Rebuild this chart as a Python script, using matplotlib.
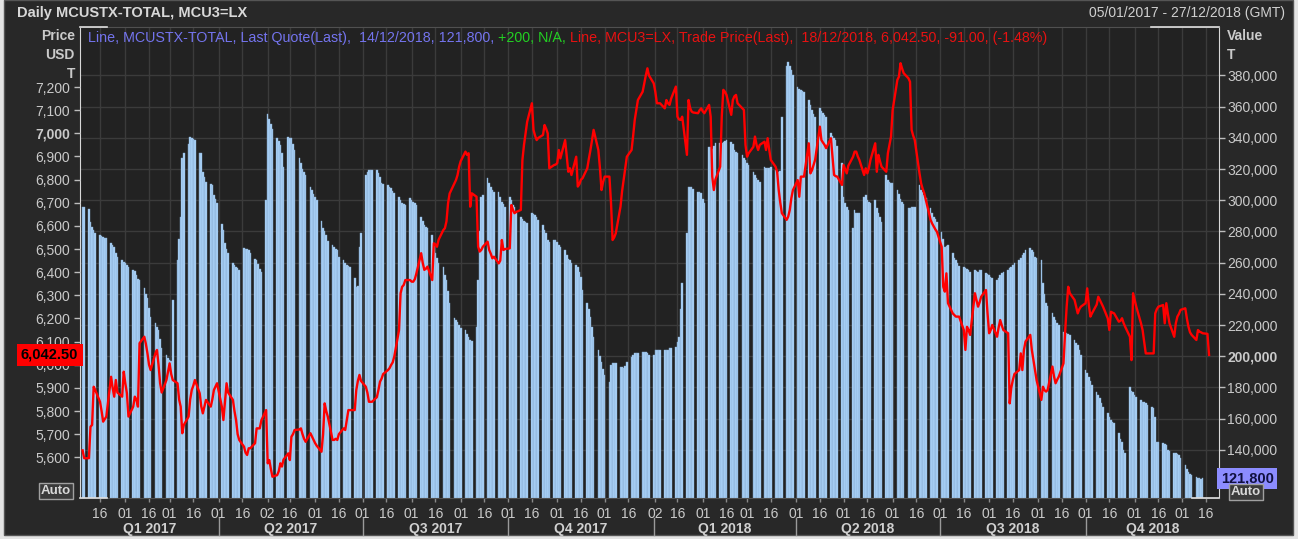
import numpy as np
import pandas as pd
import matplotlib
matplotlib.use("Agg")
import matplotlib.pyplot as plt
import matplotlib.dates as mdates
import matplotlib.transforms as mtransforms
from matplotlib.text import Annotation
from matplotlib.patches import Rectangle

plt.rcParams['font.family'] = ['Liberation Sans', 'DejaVu Sans']

# ---------------- DATA (weekly rows of daily values) ----------------
# LME copper stocks, MCUSTX-TOTAL (thousand tonnes), trading days from 05/01/2017
stocks_2017q1 = [
    [295.9, 295.5],
    [294.4, 286.3, 283.1, 281.0, 279.0], [277.8, 277.0, 276.5, 276.0, 275.8],
    [272.6, 271.5, 270.3, 266.0, 263.9], [261.7, 260.5, 259.5, 258.4, 257.4],
    [255.3, 254.5, 252.0, 249.5, 248.9], [243.6, 240.0, 237.2, 231.0, 225.4],
    [221.2, 219.0, 216.9, 211.0, 205.1], [200.8, 199.0, 197.6, 197.0, 236.1],
    [261.7, 275.0, 289.5, 326.9, 330.0], [336.0, 340.8, 340.0, 339.0, 338.6],
    [330.1, 330.1, 318.3, 315.0, 311.9], [310.5, 309.8, 303.4, 301.0, 298.1]]
stocks_2017q2 = [
    [285.0, 281.0, 272.4, 269.0, 266.0], [259.6, 258.5, 257.4, 256.5, 255.3],
    [269.2, 269.0, 268.5, 268.1, 266.0], [262.5, 261.7, 259.0, 256.0, 254.2],
    [300.0, 355.3, 352.0, 349.0, 346.0], [339.7, 338.0, 335.4, 330.0, 321.5],
    [340.8, 339.7, 339.7, 336.0, 332.2], [327.0, 323.7, 320.0, 318.0, 316.2],
    [308.3, 306.6, 304.0, 302.0, 300.2], [287.0, 282.1, 280.0, 277.8, 274.0],
    [271.4, 270.0, 269.0, 268.1, 263.9], [261.7, 260.0, 258.5, 257.8, 257.4],
    [250.0, 244.6, 245.0, 270.0, 278.9]]
stocks_2017q3 = [
    [316.2, 318.0, 319.4, 319.4, 319.4], [319.4, 317.3, 315.0, 310.9, 310.5],
    [309.8, 308.5, 307.7, 306.0, 304.5], [302.3, 300.0, 298.1, 297.5, 297.0],
    [301.3, 300.0, 299.0, 298.1, 297.0], [289.5, 287.0, 284.2, 283.0, 282.1],
    [277.8, 272.0, 266.0, 263.0, 260.0], [257.4, 252.0, 248.9, 242.0, 234.0],
    [224.4, 223.0, 222.2, 220.0, 218.0], [216.9, 214.0, 212.6, 210.5, 210.0],
    [219.0, 248.9, 280.0, 302.3, 303.4], [314.1, 311.0, 308.7, 306.5, 305.5],
    [305.5, 302.0, 299.1, 297.5, 295.9]]
stocks_2017q4 = [
    [302.3, 300.0, 297.0, 295.9, 291.7], [289.5, 288.0, 287.0, 286.3, 285.5],
    [291.7, 291.0, 290.6, 289.0, 287.4], [284.2, 281.0, 279.0, 274.6, 273.5],
    [274.6, 274.6, 273.0, 271.5, 270.3], [268.1, 265.0, 262.5, 261.7, 259.6],
    [258.5, 257.0, 254.0, 251.0, 242.5], [234.0, 230.0, 225.4, 219.0, 212.6],
    [204.0, 200.0, 196.5, 192.0, 188.0], [183.7, 194.4, 195.5, 195.5, 195.5],
    [193.3, 193.0, 192.2, 194.0, 196.5], [199.8, 201.0, 201.9, 201.9, 201.9],
    [203.0, 203.0, 203.0, 202.0, 200.8]]
stocks_2018q1 = [
    [200.8, 204.0, 204.0, 204.0, 204.0], [204.0, 204.0, 204.0, 205.0, 205.1],
    [206.2, 209.0, 212.6, 230.0, 246.8], [278.9, 308.7, 308.7, 308.7, 307.0],
    [305.5, 305.0, 304.5, 301.0, 298.1], [334.4, 334.4, 333.0, 335.0, 336.5],
    [336.5, 337.0, 337.6, 338.0, 338.6], [337.6, 336.0, 332.2, 331.0, 330.1],
    [329.0, 327.0, 325.8, 324.0, 322.6], [318.3, 316.0, 314.1, 313.0, 311.9],
    [321.5, 321.0, 320.5, 321.0, 321.5], [319.4, 318.3, 318.3, 318.5, 353.6],
    [386.0, 388.8, 386.0, 383.5, 380.0]]
stocks_2018q2 = [
    [372.8, 371.5, 370.7, 370.0, 369.6], [364.3, 361.0, 357.9, 355.0, 353.6],
    [359.0, 357.0, 355.8, 354.5, 353.6], [342.9, 341.0, 340.0, 338.6, 335.0],
    [323.7, 302.3, 298.0, 296.0, 293.8], [282.1, 293.8, 291.7, 291.7, 291.7],
    [302.3, 303.4, 300.0, 299.0, 298.1], [300.2, 294.9, 292.0, 289.0, 286.0],
    [316.2, 313.0, 311.5, 310.9, 310.9], [306.6, 304.0, 301.0, 299.1, 297.5],
    [294.9, 295.0, 295.5, 295.9, 296.0], [309.8, 306.6, 305.0, 303.4, 301.5],
    [294.9, 292.0, 289.5, 288.0, 286.3]]
stocks_2018q3 = [
    [279.9, 275.0, 270.3, 271.0, 271.4], [266.0, 263.0, 261.7, 259.6, 258.0],
    [257.4, 256.4, 256.0, 255.3, 254.2], [255.3, 254.7, 254.2, 255.0, 255.3],
    [253.2, 252.5, 252.1, 251.0, 250.0], [248.9, 250.0, 252.1, 253.5, 254.2],
    [255.3, 256.5, 257.4, 258.5, 259.6], [261.7, 263.0, 264.9, 266.5, 268.1],
    [269.2, 268.1, 267.1, 263.9, 262.8], [261.7, 246.8, 240.0, 234.0, 232.5],
    [228.0, 225.4, 223.0, 221.2, 220.0], [215.8, 215.0, 214.7, 214.0, 213.7],
    [210.5, 208.3, 207.0, 204.0, 200.8]]
stocks_2018q4 = [
    [191.2, 189.0, 186.9, 184.0, 181.6], [177.3, 175.0, 173.1, 170.0, 167.7],
    [163.5, 161.0, 159.2, 158.1, 157.0], [150.6, 147.0, 145.3, 139.9, 137.8],
    [180.5, 178.0, 177.3, 175.0, 174.1], [172.0, 171.0, 170.5, 169.9, 168.5],
    [167.7, 166.7, 161.3, 145.3, 145.3], [144.3, 144.0, 143.0, 139.9, 139.0],
    [137.8, 137.8, 137.5, 136.7, 134.5], [130.3, 128.0, 126.0, 124.5, 123.9],
    [122.5, 121.9, 121.7, 121.6, 121.8]]

# LME 3M copper, MCU3=LX trade price (USD/t), trading days from 05/01/2017
price_2017q1 = [
    [5630, 5596],
    [5596, 5732, 5740, 5905, 5891], [5840, 5800, 5754, 5765, 5776],
    [5948, 5900, 5862, 5934, 5880], [5862, 5970, 5920, 5877, 5776],
    [5819, 5862, 5850, 5819, 6093], [6121, 6090, 6049, 6000, 5977],
    [6049, 6064, 6000, 5920, 5880], [5934, 5970, 6006, 5960, 5934],
    [5920, 5850, 5819, 5704, 5740], [5776, 5850, 5891, 5910, 5934],
    [5877, 5820, 5790, 5820, 5848], [5819, 5850, 5891, 5905, 5920]]
price_2017q2 = [
    [5819, 5761, 5840, 5920, 5880], [5848, 5800, 5761, 5700, 5675],
    [5646, 5620, 5610, 5639, 5639], [5661, 5725, 5725, 5725, 5760],
    [5804, 5574, 5588, 5550, 5516], [5523, 5540, 5574, 5560, 5590],
    [5617, 5588, 5689, 5700, 5718], [5720, 5725, 5700, 5680, 5667],
    [5704, 5690, 5675, 5661, 5650], [5624, 5700, 5833, 5800, 5776],
    [5675, 5675, 5680, 5675, 5700], [5725, 5718, 5760, 5804, 5804],
    [5804, 5891, 5930, 5956, 5930]]
price_2017q3 = [
    [5905, 5880, 5840, 5840, 5840], [5860, 5891, 5927, 5940, 5960],
    [5977, 5985, 5999, 6010, 6035], [6150, 6309, 6337, 6345, 6366],
    [6366, 6359, 6359, 6370, 6395], [6482, 6440, 6410, 6415, 6424],
    [6366, 6525, 6520, 6510, 6540], [6582, 6590, 6620, 6698, 6740],
    [6784, 6798, 6820, 6856, 6880], [6921, 6907, 6914, 6683, 6741],
    [6726, 6510, 6489, 6496, 6510], [6532, 6496, 6480, 6460, 6467],
    [6438, 6450, 6539, 6496, 6500]]
price_2017q4 = [
    [6503, 6690, 6670, 6655, 6660], [6669, 6885, 6950, 7000, 7050],
    [7130, 7015, 6990, 6971, 6980], [6993, 7036, 7020, 7000, 6849],
    [6863, 6865, 6871, 6928, 6892], [6971, 6900, 6834, 6849, 6820],
    [6899, 6770, 6780, 6800, 6806], [6849, 6890, 6928, 6970, 7015],
    [6928, 6850, 6755, 6790, 6813], [6813, 6700, 6539, 6550, 6568],
    [6683, 6750, 6800, 6850, 6899], [6928, 6990, 7058, 7100, 7144],
    [7180, 7216, 7250, 7281, 7250]]
price_2018q1 = [
    [7216, 7180, 7130, 7130, 7130], [7108, 7144, 7130, 7123, 7150],
    [7202, 7072, 7060, 7058, 7072], [6907, 7144, 7110, 7094, 7090],
    [7087, 7100, 7108, 7095, 7087], [7123, 7072, 6813, 6755, 6800],
    [6856, 7072, 7188, 7180, 7166], [7080, 7144, 7160, 7166, 7130],
    [7108, 7101, 6950, 6899, 6914], [6942, 6986, 6950, 6928, 6950],
    [6964, 6928, 6979, 6930, 6885], [6856, 6834, 6755, 6700, 6655],
    [6626, 6640, 6669, 6720, 6755]]
price_2018q2 = [
    [6798, 6726, 6813, 6813, 6813], [6957, 6827, 6840, 6863, 6885],
    [7029, 6971, 6960, 6950, 6936], [6979, 6900, 6820, 6815, 6813],
    [6777, 6863, 6845, 6827, 6860], [6899, 6921, 6921, 6900, 6885],
    [6820, 6849, 6827, 6850, 6885], [6957, 6834, 6907, 6880, 6856],
    [6834, 6914, 6950, 6986, 7100], [7231, 7245, 7303, 7280, 7260],
    [7238, 7223, 7015, 6990, 6971], [6827, 6784, 6760, 6741, 6712],
    [6626, 6610, 6597, 6585, 6575]]
price_2018q3 = [
    [6510, 6337, 6316, 6395, 6266], [6222, 6215, 6208, 6208, 6208],
    [6150, 6064, 6164, 6150, 6129], [6309, 6280, 6251, 6270, 6294],
    [6323, 6222, 6136, 6150, 6172], [6121, 6160, 6193, 6170, 6150],
    [6136, 5833, 5900, 5934, 5960], [5977, 6049, 5977, 6064, 6100],
    [6129, 6064, 6020, 5977, 5934], [5848, 5905, 5890, 5884, 5891],
    [5992, 5950, 5920, 5935, 5948], [6006, 6136, 6250, 6337, 6309],
    [6280, 6250, 6222, 6240, 6251]]
price_2018q4 = [
    [6266, 6330, 6260, 6208, 6222], [6260, 6294, 6280, 6266, 6251],
    [6200, 6150, 6229, 6225, 6222], [6186, 6190, 6201, 6180, 6164],
    [6121, 6020, 6309, 6280, 6251], [6179, 6150, 6100, 6049, 6049],
    [6049, 6049, 6222, 6240, 6251], [6258, 6179, 6266, 6220, 6179],
    [6121, 6179, 6208, 6220, 6237], [6244, 6200, 6164, 6140, 6129],
    [6107, 6150, 6143, 6140, 6136], [6133.5, 6042.5]]

series_start = "2017-01-05"
price_ticks = list(range(5600, 7201, 100))
stock_ticks = list(range(140000, 380001, 20000))
bold_price_ticks = [7000]
bold_stock_ticks = [200000]
quarters = ["Q1 2017", "Q2 2017", "Q3 2017", "Q4 2017",
            "Q1 2018", "Q2 2018", "Q3 2018", "Q4 2018"]
quarter_starts = ["2017-01-01", "2017-04-01", "2017-07-01", "2017-10-01",
                  "2018-01-01", "2018-04-01", "2018-07-01", "2018-10-01", "2019-01-01"]
month_first_shift = {(2017, 5): 2, (2018, 1): 2}   # first trading day label (02)


def flat(blocks):
    return [v for block in blocks for row in block for v in row]


stocks = np.array(flat([stocks_2017q1, stocks_2017q2, stocks_2017q3, stocks_2017q4,
                        stocks_2018q1, stocks_2018q2, stocks_2018q3, stocks_2018q4])) * 1000
price = np.array(flat([price_2017q1, price_2017q2, price_2017q3, price_2017q4,
                       price_2018q1, price_2018q2, price_2018q3, price_2018q4]), dtype=float)
stock_dates = pd.bdate_range(series_start, periods=len(stocks))
price_dates = pd.bdate_range(series_start, periods=len(price))
xs = mdates.date2num(stock_dates.to_pydatetime())
xp = mdates.date2num(price_dates.to_pydatetime())

# ---------------- FIGURE ----------------
W, H = 1298, 539
fig = plt.figure(figsize=(W / 100, H / 100), dpi=100, facecolor="#e4e4e4")


def fx(px):
    return px / W


def fy(py):
    return 1 - py / H


# dark panel of the chart window
fig.add_artist(Rectangle((fx(4), fy(535)), fx(1293) - fx(4), 1 - fy(535),
                         transform=fig.transFigure, fc="#282828", ec="#555555", lw=1, zorder=-10))

TXT = "#cacaca"
ax = fig.add_axes([fx(80), fy(498), fx(1219) - fx(80), fy(27) - fy(498)])
ax.set_facecolor("#222222")
ax2 = ax.twinx()

# bars (stocks) on host axis -> right scale
ax.bar(xs, stocks, width=1.0, color="#add6fc", edgecolor="#86a9cf", linewidth=0.3, zorder=2)
ax.yaxis.tick_right()
ax.set_ylim(109160, 411090)
ax.set_yticks(stock_ticks)
ax.set_yticklabels([f"{v:,}" for v in stock_ticks])

# line (price) on twin axis -> left scale
ax2.plot(xp, price, color="#ff0000", lw=1.7, zorder=3)
ax2.yaxis.tick_left()
ax2.set_ylim(5424.1, 7459.6)
ax2.set_yticks(price_ticks)
ax2.set_yticklabels([f"{v:,}" for v in price_ticks])

x0 = mdates.date2num(pd.Timestamp("2017-01-16").to_pydatetime())
ax.set_xlim(x0 - 12.64, x0 + 707.3)

# x ticks: 01 / 16 of each month
tick_dates, tick_labels = [], []
for y in (2017, 2018):
    for m in range(1, 13):
        d1 = month_first_shift.get((y, m), 1)
        for d in (d1, 16):
            tick_dates.append(pd.Timestamp(y, m, d))
            tick_labels.append(f"{d:02d}")
tx = mdates.date2num([t.to_pydatetime() for t in tick_dates])
keep = (tx > ax.get_xlim()[0]) & (tx < ax.get_xlim()[1])
ax.set_xticks(tx[keep])
ax.set_xticklabels([l for l, k in zip(tick_labels, keep) if k])

ax.grid(True, color="#3b3b3b", lw=1.0, zorder=0)
ax.set_axisbelow(True)

ax.tick_params(axis="y", which="both", right=True, left=False, labelright=True, labelleft=False,
               direction="out", length=4, width=1, color="#bdbdbd", labelcolor=TXT,
               labelsize=10, pad=2)
ax2.tick_params(axis="y", which="both", left=True, right=False, labelleft=True, labelright=False,
                direction="out", length=4, width=1, color="#bdbdbd", labelcolor=TXT,
                labelsize=10, pad=3)
ax.tick_params(axis="x", bottom=True, direction="out", length=3, width=1, color="#8a8a8a",
               labelcolor=TXT, labelsize=10, pad=3.5)

for lbl, v in zip(ax.get_yticklabels(), stock_ticks):
    if v in bold_stock_ticks:
        lbl.set_fontweight("bold")
for lbl, v in zip(ax2.get_yticklabels(), price_ticks):
    if v in bold_price_ticks:
        lbl.set_fontweight("bold")

for s in ("left", "right"):
    ax.spines[s].set_color("#d8d8d8")
for s in ("top", "bottom"):
    ax.spines[s].set_color("#505050")
for s in ax2.spines.values():
    s.set_visible(False)

# corner highlight segments of the frame
for (xa, xb, yy) in [(0, 0.024, 1), (0, 0.024, 0), (0.976, 1, 0), (0.94, 1, 1)]:
    ax.plot([xa, xb], [yy, yy], transform=ax.transAxes, color="#e0e0e0", lw=1.2,
            clip_on=False, zorder=5)

# quarter labels and separators
bt = mtransforms.blended_transform_factory(ax.transData, ax.transAxes)
qs = mdates.date2num([pd.Timestamp(q).to_pydatetime() for q in quarter_starts])
xl = ax.get_xlim()
for i, q in enumerate(quarters):
    a, b = max(qs[i], xl[0]), min(qs[i + 1], xl[1])
    ax.text((a + b) / 2, -0.066, q, transform=bt, ha="center", va="center",
            fontsize=10, fontweight="bold", color="#d0d0d0")
for q in qs[1:-1]:
    ax.plot([q, q], [-0.042, -0.078], transform=bt, color="#9a9a9a", lw=1, clip_on=False)

# last value tags
bl2 = mtransforms.blended_transform_factory(ax2.transAxes, ax2.transData)
ax2.text(-0.0015, price[-1], f"{price[-1]:,.2f}", transform=bl2, ha="right", va="center",
         fontsize=10.5, fontweight="bold", color="black",
         bbox=dict(boxstyle="square,pad=0.3", fc="#ff0000", ec="none"), zorder=6, clip_on=False)
bl1 = mtransforms.blended_transform_factory(ax.transAxes, ax.transData)
ax.text(1.0015, stocks[-1], f"{stocks[-1]:,.0f}", transform=bl1, ha="left", va="center",
        fontsize=10.5, fontweight="bold", color="#101040",
        bbox=dict(boxstyle="square,pad=0.25", fc="#8c8cff", ec="none"), zorder=6, clip_on=False)

# axis headers
for txt, py in (("Price", 36), ("USD", 55), ("T", 74)):
    fig.text(fx(75), fy(py), txt, ha="right", va="center", fontsize=10, fontweight="bold", color=TXT)
for txt, py in (("Value", 36), ("T", 55)):
    fig.text(fx(1227), fy(py), txt, ha="left", va="center", fontsize=10, fontweight="bold", color=TXT)

for px, py in ((56, 491), (1246, 492)):
    fig.text(fx(px), fy(py), "Auto", ha="center", va="center", fontsize=9.5, fontweight="bold",
             color="#d8d8d8", bbox=dict(boxstyle="square,pad=0.12", fc="#3a3a3a", ec="#a0a0a0", lw=1))

# title bar
fig.text(fx(17), fy(13), "Daily MCUSTX-TOTAL, MCU3=LX", ha="left", va="center",
         fontsize=10.5, fontweight="bold", color="#d8d8d8")
fig.text(fx(1285), fy(13), "05/01/2017 - 27/12/2018 (GMT)", ha="right", va="center",
         fontsize=10, color="#d0d0d0")

# legend line (multi-coloured)
chg_s = stocks[-1] - stocks[-2]
chg_p = price[-1] - price[-2]
pct_p = chg_p / price[-2] * 100
pieces = [
    (f"Line, MCUSTX-TOTAL, Last Quote(Last),  {stock_dates[-1]:%d/%m/%Y}, {stocks[-1]:,.0f}, ", "#7474ee"),
    (f"{chg_s:+,.0f}, N/A, ", "#22d022"),
    (f"Line, MCU3=LX, Trade Price(Last),  {price_dates[-1]:%d/%m/%Y}, {price[-1]:,.2f}, "
     f"{chg_p:,.2f}, ({pct_p:.2f}%)", "#e81212"),
]
LEG_FS = 10.3
prev = fig.text(fx(88), fy(38), pieces[0][0], ha="left", va="center", fontsize=LEG_FS,
                color=pieces[0][1])
for s, c in pieces[1:]:
    prev = fig.add_artist(Annotation(s, xy=(1, 0), xycoords=prev, va="bottom",
                                     ha="left", fontsize=LEG_FS, color=c))

fig.savefig("out.png", dpi=100, facecolor=fig.get_facecolor())
